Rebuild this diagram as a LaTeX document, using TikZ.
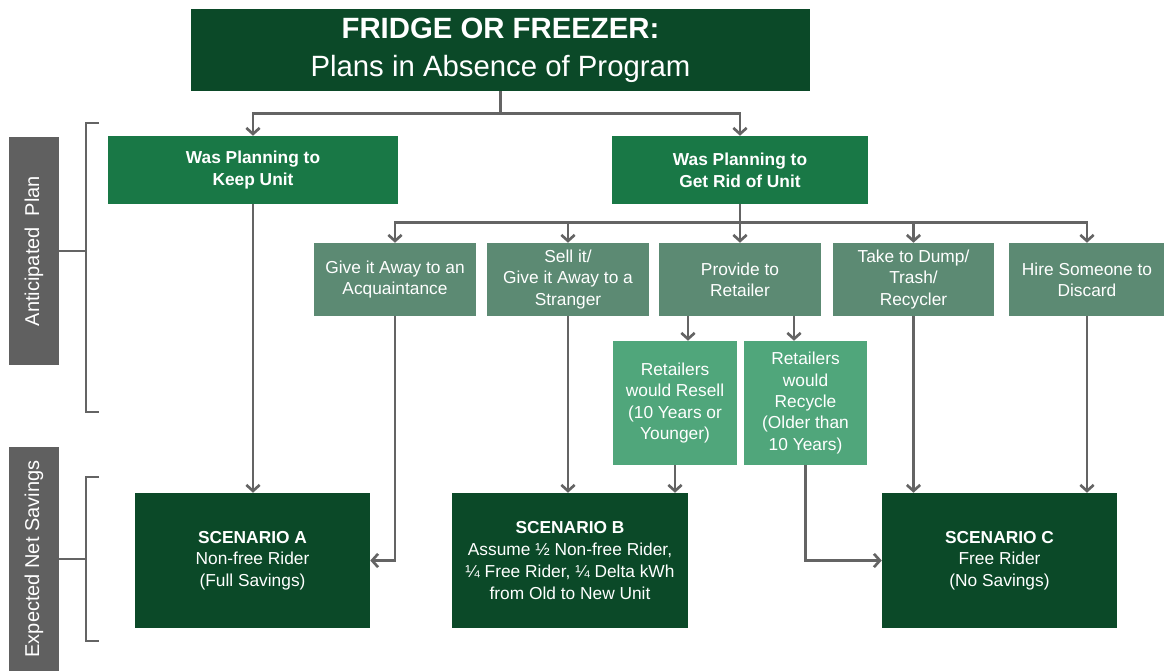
\documentclass[tikz,border=0pt]{standalone}
\usepackage{fontspec}
\setmainfont{Liberation Sans}
\usepackage{xcolor}
\usetikzlibrary{arrows.meta}
\tikzset{>={Straight Barb[length=4.5pt,width=10pt]}}
\definecolor{darkgreen}{RGB}{11,73,40}
\definecolor{midgreen}{RGB}{25,120,70}
\definecolor{sagegreen}{RGB}{92,138,115}
\definecolor{lightgreen}{RGB}{80,166,123}
\definecolor{labelgray}{RGB}{96,96,96}
\definecolor{linegray}{RGB}{100,100,100}
\tikzset{wh/.style 2 args={minimum width=#1*0.75pt,minimum height=#2*0.75pt}}
\tikzstyle{box}=[inner sep=2pt,text=white,align=center,font=\fontsize{13}{16}\selectfont]
\tikzstyle{headbox}=[box,fill=darkgreen,font=\fontsize{22}{28.5}\selectfont]
\tikzstyle{planbox}=[box,fill=midgreen,font=\fontsize{13}{16.5}\selectfont\bfseries]
\tikzstyle{optbox}=[box,fill=sagegreen]
\tikzstyle{retbox}=[box,fill=lightgreen]
\tikzstyle{scenbox}=[box,fill=darkgreen,font=\fontsize{13}{16.3}\selectfont]
\tikzstyle{sidebox}=[fill=labelgray,text=white,rotate=90,inner sep=0pt,font=\fontsize{15}{18}\selectfont]
\tikzstyle{link}=[linegray,line width=2pt]

\begin{document}
\begin{tikzpicture}[x=0.75pt,y=-0.75pt]
  \useasboundingbox (0,0) rectangle (1164,671);

  % title
  \node[headbox,wh={619}{82}] (title) at (500.5,50)
    {\textbf{FRIDGE OR FREEZER:}\\Plans in Absence of Program};

  % anticipated plan
  \node[planbox,wh={290}{68}] (keep) at (253,170) {Was Planning to\\Keep Unit};
  \node[planbox,wh={256}{68}] (rid) at (740,170) {Was Planning to\\Get Rid of Unit};

  % ways to get rid of unit
  \node[optbox,wh={162}{73}] (give) at (395,279.5) {Give it Away to an\\Acquaintance};
  \node[optbox,wh={162}{73}] (sell) at (568,279.5) {Sell it/\\Give it Away to a\\Stranger};
  \node[optbox,wh={162}{73}] (provide) at (740,279.5) {Provide to\\Retailer};
  \node[optbox,wh={161}{73}] (take) at (913.5,279.5) {Take to Dump/\\Trash/\\Recycler};
  \node[optbox,wh={156}{73}] (hire) at (1087,279.5) {Hire Someone to\\Discard};

  % retailer
  \node[retbox,wh={124}{124}] (resell) at (675,403) {Retailers\\would Resell\\(10 Years or\\Younger)};
  \node[retbox,wh={123}{124}] (recycle) at (805.5,403) {Retailers\\would\\Recycle\\(Older than\\10 Years)};

  % scenarios
  \node[scenbox,wh={235}{135}] (scenA) at (252.5,560.5)
    {\textbf{SCENARIO A}\\Non-free Rider\\(Full Savings)};
  \node[scenbox,wh={236}{135}] (scenB) at (570,560.5)
    {\textbf{SCENARIO B}\\Assume ½ Non-free Rider,\\¼ Free Rider, ¼ Delta kWh\\from Old to New Unit};
  \node[scenbox,wh={235}{135}] (scenC) at (999.5,560.5)
    {\textbf{SCENARIO C}\\Free Rider\\(No Savings)};

  % side labels
  \node[sidebox,wh={228}{50}] (plan) at (34,251) {Anticipated\ \ Plan};
  \node[sidebox,wh={224}{50}] (savings) at (34,559) {Expected Net Savings};

  % brackets
  \draw[link] (plan.south) -- ++(27,0) coordinate (brace1);
  \draw[link] (99,123) -- (86,123) -- (86,412) -- (99,412);
  \draw[link] (savings.south) -- ++(27,0) coordinate (brace2);
  \draw[link] (99,477) -- (86,477) -- (86,641) -- (99,641);

  % title to plans
  \draw[link] (title.south) -- ++(0,22) coordinate (split1);
  \draw[link,->] (split1) -| (keep.north);
  \draw[link,->] (split1) -| (rid.north);

  % get rid of unit to options
  \draw[link] (rid.south) -- ++(0,18) coordinate (split2);
  \draw[link,->] (split2) -| (give.north);
  \draw[link,->] (split2) -| (sell.north);
  \draw[link,->] (split2) -- (provide.north);
  \draw[link,->] (split2) -| (take.north);
  \draw[link,->] (split2) -| (hire.north);

  % provide to retailer
  \draw[link,->] ([xshift=-39pt]provide.south) -- ([xshift=-39pt]provide.south |- resell.north);
  \draw[link,->] ([xshift=40.5pt]provide.south) -- ([xshift=40.5pt]provide.south |- recycle.north);

  % options to scenarios
  \draw[link,->] (keep.south) -- (keep.south |- scenA.north);
  \draw[link,->] (give.south) |- (scenA.east);
  \draw[link,->] (sell.south) -- (sell.south |- scenB.north);
  \draw[link,->] (resell.south) -- (resell.south |- scenB.north);
  \draw[link,->] (recycle.south) |- (scenC.west);
  \draw[link,->] (take.south) -- (take.south |- scenC.north);
  \draw[link,->] (hire.south) -- (hire.south |- scenC.north);

\end{tikzpicture}
\end{document}
